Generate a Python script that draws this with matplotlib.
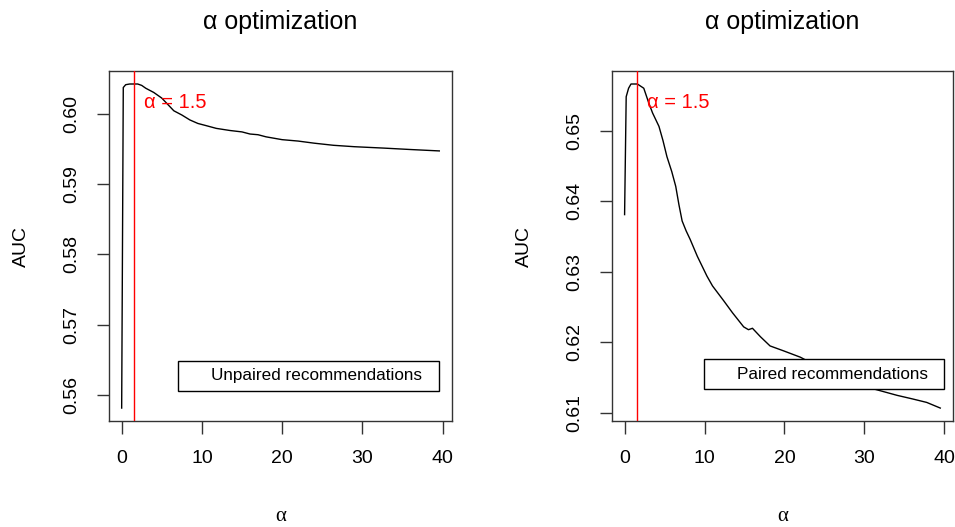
import matplotlib
matplotlib.use("Agg")
import matplotlib.pyplot as plt
from matplotlib.patches import Rectangle

plt.rcParams['font.family'] = ['Liberation Sans', 'DejaVu Sans']

# alpha grid and AUC (unpaired)
alpha_unpaired = [0.0, 0.2, 0.5, 1.0, 1.5, 2.0, 2.5, 3.0, 4.0, 5.0, 6.0, 6.5,
                  7.5, 8.5, 9.5, 10.5, 11.8, 13.5, 15.0, 16.0, 17.0, 18.0,
                  20.0, 22.0, 24.0, 26.4, 29.0, 32.7, 36.0, 39.6]
auc_unpaired = [0.5582, 0.6037, 0.6041, 0.6042, 0.6042, 0.6042, 0.6040, 0.6036,
                0.6030, 0.6022, 0.6010, 0.6004, 0.5998, 0.5991, 0.5986, 0.5983,
                0.5979, 0.5976, 0.5974, 0.5971, 0.5970, 0.5967, 0.5963, 0.5961,
                0.5958, 0.5955, 0.5953, 0.5951, 0.5949, 0.5947]

# right panel (paired)
alpha_paired = [0.0, 0.2, 0.5, 0.8, 1.6, 2.4, 3.0, 3.5, 4.3, 4.8, 5.3, 5.9,
                6.4, 6.8, 7.2, 7.7, 8.2, 9.1, 10.3, 11.0, 12.4, 13.5, 14.9,
                15.5, 16.0, 17.0, 18.2, 19.9, 22.0, 24.0, 26.0, 28.0, 30.0,
                31.2, 34.1, 36.0, 37.8, 39.5]
auc_paired = [0.6381, 0.6548, 0.6560, 0.6566, 0.6566, 0.6560, 0.6540, 0.6525,
              0.6506, 0.6486, 0.6463, 0.6442, 0.6421, 0.6395, 0.6372, 0.6358,
              0.6346, 0.6322, 0.6294, 0.6280, 0.6259, 0.6242, 0.6222, 0.6218,
              0.6220, 0.6208, 0.6195, 0.6188, 0.6179, 0.6167, 0.6157, 0.6147,
              0.6139, 0.6134, 0.6125, 0.6120, 0.6115, 0.6107]

best_alpha = 1.5
x_ticks = [0, 10, 20, 30, 40]
y_ticks_unpaired = [0.56, 0.57, 0.58, 0.59, 0.60]
y_ticks_paired = [0.61, 0.62, 0.63, 0.64, 0.65]

fig = plt.figure(figsize=(9.55, 5.27), dpi=100)
ax1 = fig.add_axes([0.1141, 0.2011, 0.3592, 0.6641])
ax2 = fig.add_axes([0.6408, 0.2011, 0.3570, 0.6641])

panels = [
    (ax1, alpha_unpaired, auc_unpaired, y_ticks_unpaired, "Unpaired recommendations",
     (0.202, 0.0866, 0.761, 0.0857), 0.2974, 0.1294),
    (ax2, alpha_paired, auc_paired, y_ticks_paired, "Paired recommendations",
     (0.2698, 0.0923, 0.7047, 0.0835), 0.3657, 0.1339),
]

for ax, xs, ys, yt, leg, box, tx, ty in panels:
    ax.plot(xs, ys, color='black', lw=1.0, zorder=2)
    ax.margins(x=0.04, y=0.04)
    ax.axvline(best_alpha, color='red', lw=1.0, zorder=3)
    ymin, ymax = ax.get_ylim()
    ax.text(best_alpha + 1.25, ymax - (ymax - ymin) * 0.09, "α = 1.5",
            color='red', fontsize=14.5, va='center', ha='left', zorder=4)

    ax.set_xticks(x_ticks)
    ax.set_yticks(yt)
    ax.set_yticklabels(["%.2f" % v for v in yt], rotation=90, va='center')
    ax.tick_params(axis='both', labelsize=14, length=9, width=1.0,
                   color='#333333')
    ax.tick_params(axis='x', pad=12)
    ax.tick_params(axis='y', pad=12)
    for s in ax.spines.values():
        s.set_color('#333333')
        s.set_linewidth(1.0)

    ax.set_title("α optimization", fontsize=18, pad=30)
    ax.set_xlabel("α", fontsize=15, family=['Liberation Serif', 'DejaVu Serif'],
                  labelpad=29)
    ax.set_ylabel("AUC", fontsize=14, labelpad=24)

    # boxed label in the lower right, as in the original
    ax.add_patch(Rectangle((box[0], box[1]), box[2], box[3], transform=ax.transAxes,
                           facecolor='white', edgecolor='black', lw=1.0, zorder=5))
    ax.text(tx, ty, leg, transform=ax.transAxes, fontsize=12.3, va='center',
            ha='left', zorder=6)

fig.savefig("out.png", dpi=100)
